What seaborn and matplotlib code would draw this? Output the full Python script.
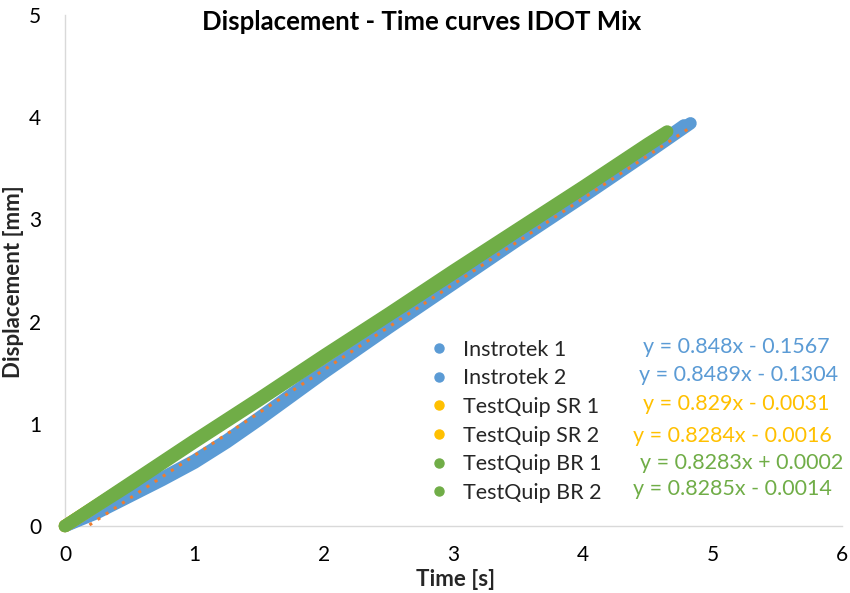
import numpy as np
import pandas as pd
import matplotlib
matplotlib.use("Agg")
import matplotlib.pyplot as plt
from matplotlib.lines import Line2D
import seaborn as sns

# ---------------- data ----------------
series_names = ["Instrotek 1", "Instrotek 2", "TestQuip SR 1", "TestQuip SR 2",
                "TestQuip BR 1", "TestQuip BR 2"]

time_instrotek_1 = [0, 0.25, 0.5, 0.75, 1.0, 1.25, 1.5, 1.75, 2.0, 2.5, 3.0, 3.5, 4.0, 4.5, 4.83]
disp_instrotek_1 = [0, 0.13, 0.29, 0.45, 0.62, 0.82, 1.04, 1.27, 1.50, 1.94, 2.37, 2.80, 3.22, 3.65, 3.94]

time_instrotek_2 = [0, 0.25, 0.5, 0.75, 1.0, 1.25, 1.5, 1.75, 2.0, 2.5, 3.0, 3.5, 4.0, 4.5, 4.78]
disp_instrotek_2 = [0, 0.15, 0.31, 0.47, 0.64, 0.84, 1.06, 1.29, 1.52, 1.96, 2.39, 2.82, 3.24, 3.67, 3.92]

time_sr_1 = [0, 0.5, 1.0, 1.5, 2.0, 2.5, 3.0, 3.5, 4.0, 4.5, 4.60]
disp_sr_1 = [0, 0.41, 0.83, 1.24, 1.65, 2.07, 2.48, 2.90, 3.31, 3.73, 3.81]

time_sr_2 = [0, 0.5, 1.0, 1.5, 2.0, 2.5, 3.0, 3.5, 4.0, 4.5, 4.62]
disp_sr_2 = [0, 0.41, 0.83, 1.24, 1.66, 2.07, 2.48, 2.90, 3.31, 3.73, 3.83]

time_br_1 = [0, 0.5, 1.0, 1.5, 2.0, 2.5, 3.0, 3.5, 4.0, 4.5, 4.65]
disp_br_1 = [0, 0.42, 0.84, 1.25, 1.67, 2.08, 2.50, 2.91, 3.32, 3.74, 3.86]

time_br_2 = [0, 0.5, 1.0, 1.5, 2.0, 2.5, 3.0, 3.5, 4.0, 4.5, 4.62]
disp_br_2 = [0, 0.40, 0.82, 1.23, 1.65, 2.06, 2.47, 2.89, 3.30, 3.72, 3.82]

equations = ["y = 0.848x - 0.1567", "y = 0.8489x - 0.1304", "y = 0.829x - 0.0031",
             "y = 0.8284x - 0.0016", "y = 0.8283x + 0.0002", "y = 0.8285x - 0.0014"]

x_ticks = [0, 1, 2, 3, 4, 5, 6]
y_ticks = [0, 1, 2, 3, 4, 5]

# ---------------- style ----------------
BLUE = "#5B9BD5"
ORANGE = "#ED7D31"
YELLOW = "#FFC000"
GREEN = "#70AD47"
colors = [BLUE, BLUE, YELLOW, YELLOW, GREEN, GREEN]

sns.set_theme(style="white")
plt.rcParams["font.family"] = ["Lato", "DejaVu Sans"]

frames = []
for name, t, d in zip(series_names,
                      [time_instrotek_1, time_instrotek_2, time_sr_1, time_sr_2, time_br_1, time_br_2],
                      [disp_instrotek_1, disp_instrotek_2, disp_sr_1, disp_sr_2, disp_br_1, disp_br_2]):
    frames.append(pd.DataFrame({"Time": t, "Displacement": d, "Series": name}))
df = pd.concat(frames, ignore_index=True)

fig = plt.figure(figsize=(8.5, 5.93), dpi=100)
ax = fig.add_axes([65 / 850, 1 - 526 / 593, (842 - 65) / 850, (526 - 15) / 593])

for name, col in zip(series_names, colors):
    sub = df[df["Series"] == name]
    sns.lineplot(data=sub, x="Time", y="Displacement", ax=ax, color=col,
                 linewidth=9, solid_capstyle="round", solid_joinstyle="round",
                 sort=False, estimator=None, legend=False, clip_on=False)

# linear trendline for Instrotek 1
sns.regplot(data=df[df["Series"] == "Instrotek 1"], x="Time", y="Displacement", ax=ax,
            scatter=False, ci=None, truncate=True,
            line_kws=dict(color=ORANGE, linestyle=(0, (1, 2.2)), linewidth=2.2, zorder=5))

ax.set_xlim(0, 6)
ax.set_ylim(0, 5)
ax.set_xticks(x_ticks)
ax.set_yticks(y_ticks)
ax.tick_params(axis="both", length=0, labelsize=15, colors="#000000")
ax.tick_params(axis="x", pad=14)
ax.tick_params(axis="y", pad=17)
ax.set_xlabel("")
ax.set_ylabel("")
for s in ["top", "right"]:
    ax.spines[s].set_visible(False)
for s in ["left", "bottom"]:
    ax.spines[s].set_color("#D9D9D9")
    ax.spines[s].set_linewidth(1)
    ax.spines[s].set_zorder(0.5)
ax.grid(False)

fig.text(422 / 850, 1 - 22 / 593, "Displacement - Time curves IDOT Mix",
         ha="center", va="center", fontsize=18.5, fontweight="bold", color="#000000")
fig.text(456 / 850, 1 - 580 / 593, "Time [s]", ha="center", va="center",
         fontsize=16, fontweight="bold")
fig.text(14 / 850, 1 - 282 / 593, "Displacement [mm]", ha="center", va="center",
         rotation=90, fontsize=16, fontweight="bold")

handles = [Line2D([], [], marker="o", linestyle="none", color=c, markersize=6.5) for c in colors]
leg = ax.legend(handles, series_names, loc="upper left", frameon=False,
                bbox_to_anchor=(419 / 850, 1 - 329 / 593), bbox_transform=fig.transFigure,
                fontsize=15.5, handlelength=0.9, handletextpad=0.65, labelspacing=0.40,
                borderpad=0)

eq_pos = [(643, 347), (639, 375), (643, 404), (633, 436), (640, 463), (633, 489)]
for (px, py), eq, col in zip(eq_pos, equations, colors):
    fig.text(px / 850, 1 - py / 593, eq, ha="left", va="center", fontsize=15.5, color=col)

fig.savefig("out.png", dpi=100)
